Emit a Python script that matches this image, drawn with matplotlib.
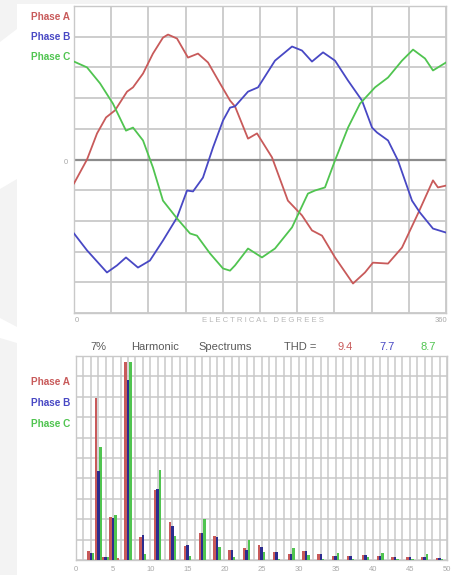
import matplotlib
matplotlib.use("Agg")
import matplotlib.pyplot as plt
from matplotlib.patches import Polygon
import numpy as np

plt.rcParams['font.family'] = ['Liberation Sans', 'DejaVu Sans']

# ---------------- data: waveforms (degrees, amplitude in grid units) ----------------
phase_a_deg = [0, 12.6, 22.3, 31, 39.7, 51.3, 57.1, 66.8, 76.4, 86.1, 91, 99.7, 110.3, 120,
               129.7, 141.3, 151, 155.8, 168.4, 177.1, 191.6, 207, 220.6, 230.3, 240, 252.6,
               270, 281.6, 289.3, 303.9, 317.4, 332.9, 347.4, 352.2, 360]
phase_a_val = [-0.78, 0, 0.85, 1.37, 1.6, 2.21, 2.35, 2.8, 3.45, 3.97, 4.07, 3.94, 3.32, 3.45,
               3.16, 2.48, 1.92, 1.73, 0.68, 0.85, 0.07, -1.34, -1.82, -2.31, -2.48, -3.19,
               -4.04, -3.68, -3.36, -3.39, -2.87, -1.76, -0.68, -0.91, -0.85]

phase_b_deg = [0, 12.6, 31.9, 41.6, 50.3, 61.9, 73.5, 86.1, 99.7, 109.4, 115.2, 124.8, 134.5,
               144.2, 151, 155.8, 168.4, 178.1, 194.5, 211, 220.6, 230.3, 241, 252.6, 265.2,
               278.7, 288.4, 293.2, 303.9, 313.5, 327.1, 334.8, 347.4, 360]
phase_b_val = [-2.41, -2.96, -3.68, -3.45, -3.19, -3.52, -3.29, -2.64, -1.89, -1.01, -1.04,
               -0.59, 0.39, 1.27, 1.69, 1.73, 2.21, 2.35, 3.22, 3.68, 3.55, 3.19, 3.49, 3.22,
               2.57, 1.92, 1.04, 0.88, 0.62, -0.03, -1.34, -1.73, -2.25, -2.38]

phase_c_deg = [0, 12.6, 25.2, 37.7, 50.3, 57.1, 66.8, 76.4, 86.1, 99.7, 112.3, 119, 131.6,
               144.2, 151, 155.8, 168.4, 181.9, 194.5, 211, 226.4, 233.2, 242.9, 252.6, 265.2,
               276.8, 291.3, 303.9, 317.4, 328.1, 339.7, 347.4, 360]
phase_c_val = [3.19, 3.0, 2.48, 1.82, 0.94, 1.04, 0.62, -0.26, -1.34, -1.92, -2.41, -2.48,
               -3.06, -3.55, -3.62, -3.45, -2.90, -3.19, -2.90, -2.21, -1.11, -1.01, -0.91,
               -0.03, 1.04, 1.82, 2.35, 2.67, 3.22, 3.58, 3.29, 2.90, 3.16]

# ---------------- data: harmonic spectrum (% of fundamental) ----------------
orders = [2, 3, 4, 5, 6, 7, 9, 11, 13, 15, 17, 19, 21, 23, 25, 27, 29, 31, 33, 35, 37, 39,
          41, 43, 45, 47, 49]
harm_a = [0.30, 5.56, 0.10, 1.49, 0.06, 6.80, 0.80, 2.40, 1.31, 0.47, 0.93, 0.82, 0.34, 0.40,
          0.51, 0.26, 0.21, 0.32, 0.21, 0.14, 0.14, 0.17, 0.14, 0.09, 0.12, 0.12, 0.08]
harm_b = [0.25, 3.06, 0.12, 1.44, 0.00, 6.18, 0.85, 2.42, 1.18, 0.51, 0.93, 0.78, 0.34, 0.34,
          0.46, 0.26, 0.21, 0.32, 0.21, 0.14, 0.14, 0.17, 0.14, 0.09, 0.12, 0.12, 0.08]
harm_c = [0.25, 3.88, 0.12, 1.54, 0.00, 6.80, 0.20, 3.09, 0.83, 0.14, 1.41, 0.46, 0.09, 0.69,
          0.28, 0.05, 0.40, 0.17, 0.03, 0.25, 0.03, 0.10, 0.24, 0.03, 0.03, 0.20, 0.03]

phase_names = ["Phase A", "Phase B", "Phase C"]
thd_values = ["9.4", "7.7", "8.7"]
x_tick_labels = ["0", "5", "10", "15", "20", "25", "30", "35", "40", "45", "50"]

RED = '#c85a5a'
BLUE = '#4848c4'
GREEN = '#50c450'
BAR_BLUE = '#2c2c8e'
GRID = '#c9c9c9'
LIGHT = '#a8a8a8'
DARK = '#5a5a5a'

W, H = 455, 575
fig = plt.figure(figsize=(W / 100, H / 100), dpi=100)
fig.patch.set_facecolor('white')

def fx(px):
    return px / W

def fy(py):
    return 1 - py / H

# background decoration (faint gray shapes at left / top)
bg = '#f3f3f3'
for pts in [[(0, 0), (17, 0), (17, 29), (0, 42)],
            [(0, 189), (17, 179), (17, 327), (0, 318)],
            [(0, 338), (17, 343), (17, 575), (0, 575)],
            [(17, 0), (410, 0), (410, 4), (17, 4)]]:
    fig.patches.append(Polygon([(fx(x), fy(y)) for x, y in pts], closed=True,
                               transform=fig.transFigure, facecolor=bg,
                               edgecolor='none', zorder=0))

# ---------------- top: waveforms ----------------
ax1 = fig.add_axes([fx(74), fy(313), fx(446) - fx(74), fy(6) - fy(313)])
ax1.set_xlim(0, 360)
ax1.set_ylim(-5, 5)
ax1.set_xticks(np.arange(0, 361, 36))
ax1.set_yticks(np.arange(-5, 6, 1))
ax1.grid(True, color=GRID, lw=1.3)
ax1.tick_params(length=0, labelbottom=False, labelleft=False)
for s in ax1.spines.values():
    s.set_color(GRID)
    s.set_linewidth(1.0)
ax1.axhline(0, color='#8c8c8c', lw=1.6, zorder=2)
ax1.plot(phase_a_deg, phase_a_val, color=RED, lw=1.3, zorder=3)
ax1.plot(phase_b_deg, phase_b_val, color=BLUE, lw=1.3, zorder=3)
ax1.plot(phase_c_deg, phase_c_val, color=GREEN, lw=1.3, zorder=3)

for name, col, py in zip(phase_names, [RED, BLUE, GREEN], [17, 37, 57]):
    fig.text(fx(70), fy(py), name, color=col, fontsize=7.2, ha='right', va='center',
             fontweight='bold')
fig.text(fx(66), fy(162), "0", color=LIGHT, fontsize=5.5, ha='center', va='center')
fig.text(fx(77), fy(320), "0", color=LIGHT, fontsize=5.5, ha='center', va='center')
fig.text(fx(263), fy(320), "E L E C T R I C A L   D E G R E E S", color='#b8b8b8',
         fontsize=5.6, ha='center', va='center')
fig.text(fx(447), fy(320), "360", color=LIGHT, fontsize=5.5, ha='right', va='center')

# ---------------- bottom: harmonic spectrum ----------------
ax2 = fig.add_axes([fx(76), fy(560), fx(447) - fx(76), fy(356) - fy(560)])
ax2.set_xlim(0, 50)
ax2.set_ylim(0, 7)
ax2.set_xticks(np.arange(0, 51, 1), minor=True)
ax2.set_xticks(np.arange(0, 51, 5))
ax2.set_xticklabels(x_tick_labels, fontsize=5.5, color=LIGHT)
ax2.set_yticks(np.arange(0, 7.01, 0.7))
ax2.grid(True, which='both', color=GRID, lw=1.1)
ax2.tick_params(which='both', length=0, labelleft=False, pad=4)
for s in ax2.spines.values():
    s.set_color(GRID)
    s.set_linewidth(1.0)
ax2.set_axisbelow(True)
o = np.array(orders)
bw = 0.34
ax2.bar(o - 0.32, harm_a, width=bw, color=RED, zorder=3)
ax2.bar(o, harm_b, width=bw, color=BAR_BLUE, zorder=4)
ax2.bar(o + 0.32, harm_c, width=bw, color=GREEN, zorder=3)

for name, col, py in zip(phase_names, [RED, BLUE, GREEN], [382, 403, 424]):
    fig.text(fx(70), fy(py), name, color=col, fontsize=7.2, ha='right', va='center',
             fontweight='bold')

ty = fy(347)
fig.text(fx(98), ty, "7%", color=DARK, fontsize=8, ha='center', va='center')
fig.text(fx(155), ty, "Harmonic", color=DARK, fontsize=8, ha='center', va='center')
fig.text(fx(225), ty, "Spectrums", color=DARK, fontsize=8, ha='center', va='center')
fig.text(fx(300), ty, "THD =", color=DARK, fontsize=8, ha='center', va='center')
for val, col, px in zip(thd_values, [RED, BLUE, GREEN], [345, 387, 428]):
    fig.text(fx(px), ty, val, color=col, fontsize=8, ha='center', va='center')

fig.savefig("out.png", dpi=100, facecolor='white')
